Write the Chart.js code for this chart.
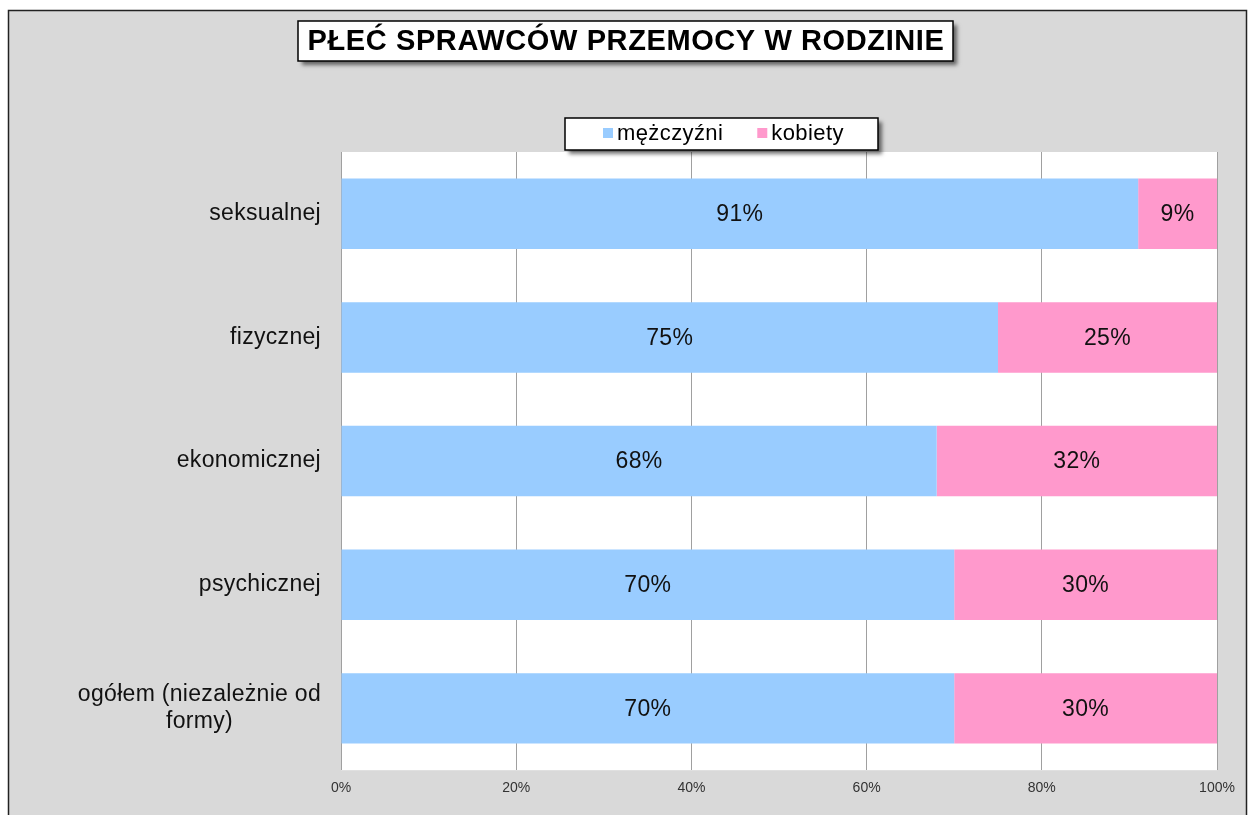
<!DOCTYPE html>
<html lang="pl">
<head>
    <meta charset="UTF-8">
    <title>Płeć sprawców przemocy w rodzinie</title>
    <script src="https://cdn.jsdelivr.net/npm/chart.js"></script>
    <style>
        html, body {
            margin: 0;
            padding: 0;
            background: #fff;
        }
        canvas {
            display: block;
        }
    </style>
</head>
<body>
    <canvas id="myChart" width="1250" height="815"></canvas>

    <script>
        const titleText = 'PŁEĆ SPRAWCÓW PRZEMOCY W RODZINIE';
        const categories = [
            'seksualnej',
            'fizycznej',
            'ekonomicznej',
            'psychicznej',
            ['ogółem (niezależnie od', 'formy)']
        ];
        const seriesNames = ['mężczyźni', 'kobiety'];
        const menValues = [91, 75, 68, 70, 70];
        const womenValues = [9, 25, 32, 30, 30];
        const tickValues = [0, 20, 40, 60, 80, 100];

        const FONT = '"Liberation Sans", Arial, sans-serif';
        const BLUE = '#99ccff';
        const PINK = '#ff99cc';
        const BG = '#d9d9d9';

        // box with a soft drop shadow, used for the title and the legend
        function shadowBox(ctx, x, y, w, h) {
            ctx.save();
            ctx.shadowColor = 'rgba(0, 0, 0, 0.55)';
            ctx.shadowBlur = 4;
            ctx.shadowOffsetX = 4;
            ctx.shadowOffsetY = 4;
            ctx.fillStyle = '#fff';
            ctx.fillRect(x, y, w, h);
            ctx.restore();
            ctx.save();
            ctx.strokeStyle = '#000';
            ctx.lineWidth = 1.5;
            ctx.strokeRect(x, y, w, h);
            ctx.restore();
        }

        const frameBackground = {
            id: 'frameBackground',
            beforeDraw(chart) {
                const {ctx, chartArea} = chart;
                ctx.save();
                ctx.fillStyle = '#fff';
                ctx.fillRect(0, 0, chart.width, chart.height);
                ctx.fillStyle = BG;
                ctx.fillRect(8, 10, 1239, chart.height);
                ctx.strokeStyle = '#222';
                ctx.lineWidth = 1.5;
                ctx.strokeRect(8.5, 10.5, 1238, chart.height + 20);
                ctx.fillStyle = '#fff';
                ctx.fillRect(chartArea.left, chartArea.top,
                    chartArea.right - chartArea.left, chartArea.bottom - chartArea.top);
                ctx.restore();
            }
        };

        const decorations = {
            id: 'decorations',
            afterDatasetsDraw(chart) {
                const {ctx} = chart;

                // values inside the bars
                ctx.save();
                ctx.font = '23px ' + FONT;
                ctx.letterSpacing = '0.4px';
                ctx.fillStyle = '#111';
                ctx.textAlign = 'center';
                ctx.textBaseline = 'middle';
                chart.data.datasets.forEach((ds, di) => {
                    chart.getDatasetMeta(di).data.forEach((bar, i) => {
                        const cx = (bar.x + bar.base) / 2;
                        ctx.fillText(ds.data[i] + '%', cx, bar.y + 1);
                    });
                });
                ctx.restore();
            },
            afterDraw(chart) {
                const {ctx} = chart;
                const yScale = chart.scales.y;

                // category labels: block right-aligned, lines centred inside it
                ctx.save();
                ctx.font = '23px ' + FONT;
                ctx.letterSpacing = '0.3px';
                ctx.fillStyle = '#111';
                ctx.textAlign = 'center';
                ctx.textBaseline = 'middle';
                const lineH = 27;
                chart.data.labels.forEach((label, i) => {
                    const lines = Array.isArray(label) ? label : [label];
                    const maxW = Math.max(...lines.map(l => ctx.measureText(l).width));
                    const cx = 321 - maxW / 2;
                    const cy = yScale.getPixelForValue(i);
                    lines.forEach((l, k) => {
                        ctx.fillText(l, cx, cy + (k - (lines.length - 1) / 2) * lineH);
                    });
                });
                ctx.restore();

                // title
                shadowBox(ctx, 298, 21, 655, 40);
                ctx.save();
                ctx.font = 'bold 29px ' + FONT;
                ctx.letterSpacing = '0.6px';
                ctx.fillStyle = '#000';
                ctx.textAlign = 'center';
                ctx.textBaseline = 'middle';
                ctx.fillText(titleText, 626, 42);
                ctx.restore();

                // legend
                shadowBox(ctx, 565, 118, 313, 32);
                ctx.save();
                ctx.font = '22px ' + FONT;
                ctx.letterSpacing = '0.4px';
                ctx.fillStyle = '#000';
                ctx.textBaseline = 'middle';
                let x = 603;
                chart.data.datasets.forEach(ds => {
                    ctx.fillStyle = ds.backgroundColor;
                    ctx.fillRect(x, 128, 10, 10);
                    ctx.fillStyle = '#000';
                    ctx.fillText(ds.label, x + 14, 134);
                    x += 14 + ctx.measureText(ds.label).width + 34;
                });
                ctx.restore();
            }
        };

        const ctx = document.getElementById('myChart').getContext('2d');
        const myChart = new Chart(ctx, {
            type: 'bar',
            data: {
                labels: categories,
                datasets: [{
                    label: seriesNames[0],
                    data: menValues,
                    backgroundColor: BLUE,
                    borderWidth: 0
                }, {
                    label: seriesNames[1],
                    data: womenValues,
                    backgroundColor: PINK,
                    borderWidth: 0
                }]
            },
            options: {
                responsive: false,
                animation: false,
                indexAxis: 'y',
                categoryPercentage: 1,
                barPercentage: 0.57,
                layout: {
                    padding: {left: 341, top: 152, right: 33, bottom: 8}
                },
                plugins: {
                    legend: {display: false},
                    title: {display: false},
                    tooltip: {enabled: false}
                },
                scales: {
                    x: {
                        stacked: true,
                        min: 0,
                        max: 100,
                        afterBuildTicks(scale) {
                            scale.ticks = tickValues.map(v => ({value: v}));
                        },
                        grid: {
                            color: '#a0a0a0',
                            lineWidth: 1,
                            drawTicks: false
                        },
                        border: {display: false},
                        ticks: {
                            padding: 10,
                            color: '#333',
                            font: {family: FONT, size: 14},
                            callback: v => v + '%'
                        }
                    },
                    y: {
                        stacked: true,
                        display: false
                    }
                }
            },
            plugins: [frameBackground, decorations]
        });
    </script>
</body>
</html>
